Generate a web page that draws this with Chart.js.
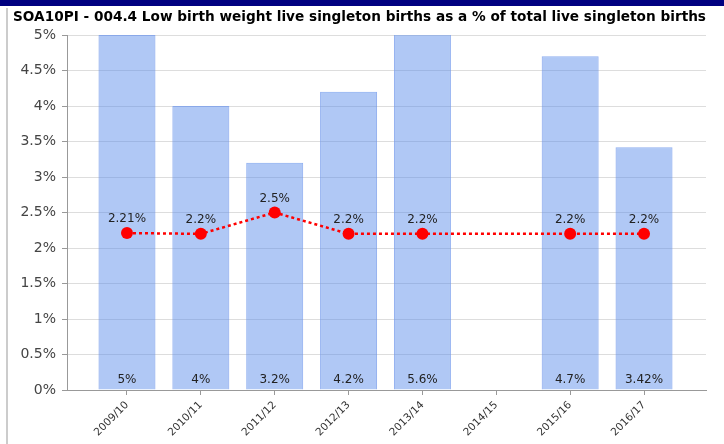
<!DOCTYPE html>
<html><head><meta charset="utf-8">
<script src="https://cdn.jsdelivr.net/npm/chart.js@4.4.1/dist/chart.umd.min.js"></script>
<style>
html,body{margin:0;padding:0;background:#fff;}
#wrap{position:relative;width:724px;height:444px;overflow:hidden;background:#fff;}
#topbar{position:absolute;left:0;top:0;width:724px;height:6px;background:#000080;}
#leftbar{position:absolute;left:6px;top:8px;width:2px;height:436px;background:#cccccc;}
canvas{position:absolute;left:0;top:0;}
</style></head><body>
<div id="wrap"><div id="topbar"></div><div id="leftbar"></div><canvas id="c" width="724" height="444"></canvas></div>
<script>
const titleText = 'SOA10PI - 004.4 Low birth weight live singleton births as a % of total live singleton births';
const categories = ['2009/10', '2010/11', '2011/12', '2012/13', '2013/14', '2014/15', '2015/16', '2016/17'];
const barValues = [5, 4, 3.2, 4.2, 5.6, null, 4.7, 3.42];
const lineValues = [2.21, 2.2, 2.5, 2.2, 2.2, null, 2.2, 2.2];
const yTicks = [0, 0.5, 1, 1.5, 2, 2.5, 3, 3.5, 4, 4.5, 5];

const labelPlugin = {
  id: 'valueLabels',
  afterDatasetsDraw(chart) {
    const ctx = chart.ctx;
    const area = chart.chartArea;
    ctx.save();
    ctx.font = '12px "DejaVu Sans"';
    ctx.fillStyle = '#222222';
    ctx.textAlign = 'center';
    ctx.textBaseline = 'middle';
    chart.data.datasets.forEach((ds, di) => {
      const meta = chart.getDatasetMeta(di);
      meta.data.forEach((el, i) => {
        const v = ds.data[i].y;
        if (v === null || v === undefined) return;
        const text = v + '%';
        if (ds.type === 'bar') ctx.fillText(text, el.x, area.bottom - 10);
        else ctx.fillText(text, el.x, el.y - 14);
      });
    });
    ctx.restore();
  }
};

new Chart(document.getElementById('c'), {
  type: 'bar',
  data: {
    datasets: [
      {
        type: 'line',
        order: 0,
        data: lineValues.map((v, i) => ({ x: i, y: v })),
        borderColor: '#ff0000',
        borderWidth: 2.5,
        borderDash: [3, 3],
        pointRadius: 6,
        pointBackgroundColor: '#ff0000',
        pointBorderColor: '#ff0000',
        pointBorderWidth: 0,
        spanGaps: true,
        tension: 0
      },
      {
        type: 'bar',
        order: 1,
        data: barValues.map((v, i) => ({ x: i, y: v })),
        backgroundColor: 'rgba(90,140,235,0.48)',
        borderColor: 'rgba(110,150,235,0.75)',
        borderWidth: 1,
        categoryPercentage: 1,
        barPercentage: 0.772
      }
    ]
  },
  options: {
    responsive: false,
    animation: false,
    layout: { padding: { top: 8, left: 13, right: 18, bottom: 0 } },
    plugins: {
      legend: { display: false },
      tooltip: { enabled: false },
      title: {
        display: true,
        text: titleText,
        align: 'start',
        color: '#000000',
        font: { family: '"DejaVu Sans"', size: 13.7, weight: 'bold', lineHeight: 1.2 },
        padding: { top: 1, bottom: 9.6 }
      }
    },
    scales: {
      x: {
        type: 'linear',
        min: -0.812,
        max: 7.839,
        offset: false,
        afterBuildTicks: (axis) => { axis.ticks = categories.map((c, i) => ({ value: i })); },
        afterFit: (s) => { s.height = 54; },
        ticks: {
          autoSkip: false,
          maxRotation: 45,
          minRotation: 45,
          padding: 4,
          color: '#333333',
          font: { family: '"DejaVu Sans"', size: 10.5 },
          callback: (v) => categories[v]
        },
        grid: { offset: false, drawOnChartArea: false, tickLength: 5, color: '#999999' },
        border: { color: '#999999' }
      },
      y: {
        min: 0,
        max: 5,
        afterBuildTicks: (axis) => { axis.ticks = yTicks.map((v) => ({ value: v })); },
        afterFit: (s) => { s.width = 54; },
        ticks: {
          padding: 6,
          color: '#444444',
          font: { family: '"DejaVu Sans"', size: 14 },
          callback: (v) => v + '%'
        },
        grid: { color: '#dddddd', tickColor: '#999999', tickLength: 5 },
        border: { color: '#999999' }
      }
    }
  },
  plugins: [labelPlugin]
});
</script>
</body></html>
